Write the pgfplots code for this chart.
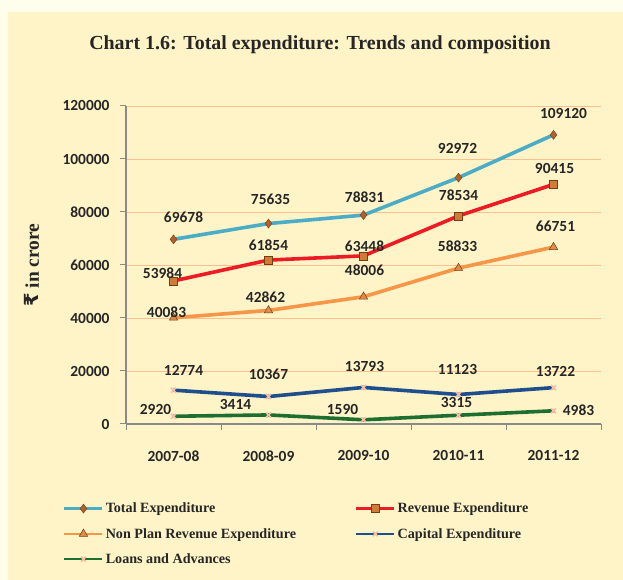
\documentclass[border=0pt]{standalone}
\usepackage{pgfplots}
\pgfplotsset{compat=1.18}
\usepackage{fontspec}
\setmainfont{Liberation Serif}
\newfontfamily\calibri{Carlito}
\newfontfamily\rupeefont{DejaVu Sans}

\definecolor{outerbg}{RGB}{255,253,235}
\definecolor{panel}{RGB}{255,244,200}
\definecolor{gridc}{RGB}{250,192,144}
\definecolor{totc}{RGB}{75,172,198}
\definecolor{revc}{RGB}{237,28,36}
\definecolor{npc}{RGB}{247,150,70}
\definecolor{capc}{RGB}{31,78,140}
\definecolor{loanc}{RGB}{30,110,50}
\definecolor{mkbrown}{RGB}{176,96,40}
\definecolor{mkdark}{RGB}{120,60,20}
\definecolor{mksq}{RGB}{205,125,55}
\definecolor{mktri}{RGB}{222,140,70}
\definecolor{mkpink}{RGB}{245,190,170}
\definecolor{txt}{RGB}{38,38,38}
\definecolor{axisc}{RGB}{137,137,137}

\pgfplotstableread{
x y dx dy
0 69678 10 22
1 75635 2 24
2 78831 1 18
3 92972 -1 29
4 109120 10 21
}\tot
\pgfplotstableread{
x y dx dy
0 53984 -11 8
1 61854 0 15
2 63448 1 10
3 78534 0 21
4 90415 1 16
}\rev
\pgfplotstableread{
x y dx dy
0 40083 -7 6
1 42862 -3 13
2 48006 1 27
3 58833 -1 22
4 66751 2 21
}\npr
\pgfplotstableread{
x y dx dy
0 12774 10 20
1 10367 0 22
2 13793 1 21
3 11123 -1 25
4 13722 2 16
}\cap
\pgfplotstableread{
x y dx dy
0 2920 -18 7
1 3414 -33 10
2 1590 -21 10
3 3315 -2 13
4 4983 25 1
}\loan

\begin{document}
\begin{tikzpicture}[x=1bp,y=1bp]
\fill[outerbg] (0,0) rectangle (623,580);
\fill[panel] (8,0) rectangle (623,568);
\node[font=\fontsize{20}{24}\selectfont\bfseries, text=txt] at (320,535) {Chart 1.6: Total expenditure: Trends and composition};
\node[rotate=90, font=\fontsize{19.5}{22}\selectfont\bfseries, text=txt] at (32,315) {{\rupeefont ₹} in crore};
\begin{axis}[
  at={(126bp,156bp)}, anchor=south west,
  scale only axis, width=475bp, height=318bp,
  xmin=-0.5, xmax=4.5, ymin=0, ymax=120000,
  axis lines*=left,
  axis line style={axisc, line width=1.3pt},
  xtick={0,1,2,3,4},
  xticklabels={2007-08,2008-09,2009-10,2010-11,2011-12},
  minor xtick={-0.5,0.5,1.5,2.5,3.5,4.5},
  major x tick style={draw=none},
  minor x tick style={axisc, line width=1pt},
  minor tick length=6bp,
  ytick={0,20000,40000,60000,80000,100000,120000},
  major y tick style={axisc, line width=1pt},
  major tick length=6bp,
  tick align=outside,
  scaled y ticks=false,
  yticklabel style={/pgf/number format/fixed, /pgf/number format/1000 sep={}},
  /pgf/number format/assume math mode=true,
  ticklabel style={font=\calibri\bfseries\fontsize{15.5}{17}\selectfont, text=txt},
  xticklabel style={yshift=-17bp},
  yticklabel style={xshift=-7bp},
  ymajorgrids, grid style={gridc, line width=0.7pt},
  clip=false,
  every axis plot/.append style={line width=3.6bp},
  point meta=explicit symbolic,
  nodes near coords,
  visualization depends on={\thisrow{dx} \as \dx},
  visualization depends on={\thisrow{dy} \as \dy},
  every node near coord/.style={anchor=center, xshift=\dx bp, yshift=\dy bp,
     font=\calibri\bfseries\fontsize{15.5}{17}\selectfont, text=txt},
  legend columns=2,
  legend cell align=left,
  legend style={at={(axis description cs:-0.139,-0.235)}, anchor=north west,
     draw=none, fill=none, font=\fontsize{14.2}{16}\selectfont\bfseries, text=txt,
     row sep=10bp,
     /tikz/every even column/.append style={column sep=57bp}},
  legend image code/.code={\draw[mark repeat=2,mark phase=2,#1,line width=2.6bp] plot coordinates {(0bp,0bp)(19bp,0bp)(38bp,0bp)};},
]
\addplot[totc, mark=diamond*, mark size=4.5bp, mark options={solid, fill=mkbrown, draw=mkdark, line width=0.4pt}] table[x=x,y=y,meta=y]{\tot};
\addlegendentry{Total Expenditure}
\addplot[revc, mark=square*, mark size=4bp, mark options={solid, fill=mksq, draw=mkdark, line width=0.5pt}] table[x=x,y=y,meta=y]{\rev};
\addlegendentry{Revenue Expenditure}
\addplot[npc, mark=triangle*, mark size=4.8bp, mark options={solid, fill=mktri, draw=mkdark, line width=0.5pt}] table[x=x,y=y,meta=y]{\npr};
\addlegendentry{Non Plan Revenue Expenditure}
\addplot[capc, mark=x, mark size=3.5bp, mark options={solid, draw=mkpink, line width=1.6bp}] table[x=x,y=y,meta=y]{\cap};
\addlegendentry{Capital Expenditure}
\addplot[loanc, mark=x, mark size=3.5bp, mark options={solid, draw=mkpink, line width=1.6bp}] table[x=x,y=y,meta=y]{\loan};
\addlegendentry{Loans and Advances}
\end{axis}
\end{tikzpicture}
\end{document}
